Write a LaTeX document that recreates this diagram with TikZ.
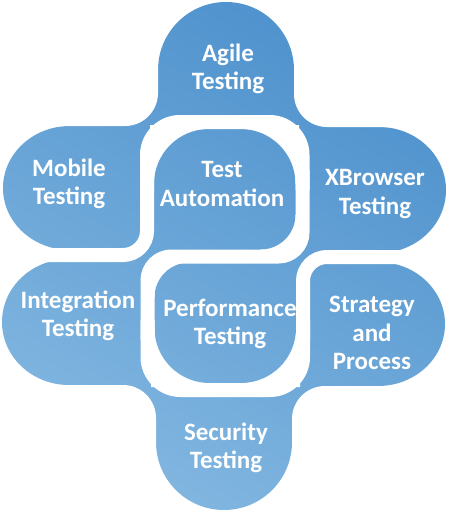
\documentclass[tikz,border=0pt]{standalone}
\usepackage{fontspec}
\setmainfont{Carlito}
\definecolor{bTop}{RGB}{76,144,204}
\definecolor{bBot}{RGB}{132,184,225}
\newcommand\bluefill[1]{\begin{scope}\clip #1;\shade[top color=bTop,bottom color=bBot,shading angle=-30] (-20,-20) rectangle (470,535);\end{scope}}
\begin{document}
\begin{tikzpicture}[x=1pt,y=-1pt,
  lbl/.style={text=white,font=\fontsize{25}{28.5}\selectfont\bfseries,align=center,inner sep=0pt},
  chan/.style={draw=white,line width=14pt}]
\useasboundingbox (0,0) rectangle (448,512);
\fill[white] (0,0) rectangle (448,512);
% ---- blue base: lobes and centre
\bluefill{(226,70) circle[radius=68]}
\bluefill{(158,70) rectangle (294,200)}
\bluefill{(224,442) circle[radius=68]}
\bluefill{(156,312) rectangle (292,442)}
\bluefill{(70,188) ellipse[x radius=67,y radius=62]}
\bluefill{(70,126) rectangle (200,250)}
\bluefill{(69,322) ellipse[x radius=67,y radius=63]}
\bluefill{(69,259) rectangle (200,385)}
\bluefill{(379,190) ellipse[x radius=67,y radius=63]}
\bluefill{(250,127) rectangle (379,253)}
\bluefill{(378,324) ellipse[x radius=67,y radius=62]}
\bluefill{(250,262) rectangle (378,386)}
\bluefill{(120,95) rectangle (330,417)}
% ---- outer background corners (concave fillets)
\fill[white,rounded corners=33pt] (-10,-10) rectangle (158,126);
\fill[white,rounded corners=33pt] (294,-10) rectangle (460,127);
\fill[white,rounded corners=33pt] (-10,385) rectangle (156,530);
\fill[white,rounded corners=33pt] (292,386) rectangle (460,530);
% ---- inner blobs (white corner fillers, then the blobs)
\fill[white] (150,125) rectangle (209,184) (240.5,125) rectangle (299,184) (260.5,214.5) rectangle (299,252);
\bluefill{(154,249.5) -- (154,184) arc[start angle=180,end angle=270,radius=55] -- (240.5,129) arc[start angle=270,end angle=360,radius=55] -- (295.5,214.5) arc[start angle=0,end angle=90,radius=35] -- cycle}
\fill[white] (241,328) rectangle (300,387) (151,328) rectangle (209.5,387) (151,260) rectangle (189.5,297.5);
\bluefill{(296,262.5) -- (296,328) arc[start angle=0,end angle=90,radius=55] -- (209.5,383) arc[start angle=90,end angle=180,radius=55] -- (154.5,297.5) arc[start angle=180,end angle=270,radius=35] -- cycle}
% ---- white S channel (painted last, over the blob edges)
\draw[chan,rounded corners=24pt] (-10,255) -- (147,255) -- (147,170);
\draw[chan,rounded corners=33pt] (147,190) -- (147,122) -- (302.5,122) -- (302.5,190);
\draw[chan,rounded corners=24pt] (302.5,170) -- (302.5,256.5) -- (147.5,256.5) -- (147.5,340);
\draw[chan,rounded corners=33pt] (147.5,320) -- (147.5,390) -- (303,390) -- (303,320);
\draw[chan,rounded corners=24pt] (303,340) -- (303,257) -- (460,257);
% ---- labels
\node[lbl] (agile) at (228,69) {Agile\\Testing};
\node[lbl] (mobile) at (69,184) {Mobile\\Testing};
\node[lbl] (ta) at (222,184) {Test\\Automation};
\node[lbl] (xb) at (375,194) {XBrowser\\Testing};
\node[lbl] (integ) at (78,316) {Integration\\Testing};
\node[lbl] (perf) at (230,324) {Performance\\Testing};
\node[lbl] (strat) at (372,333) {Strategy\\and\\Process};
\node[lbl] (sec) at (226,448) {Security\\Testing};
\end{tikzpicture}
\end{document}
